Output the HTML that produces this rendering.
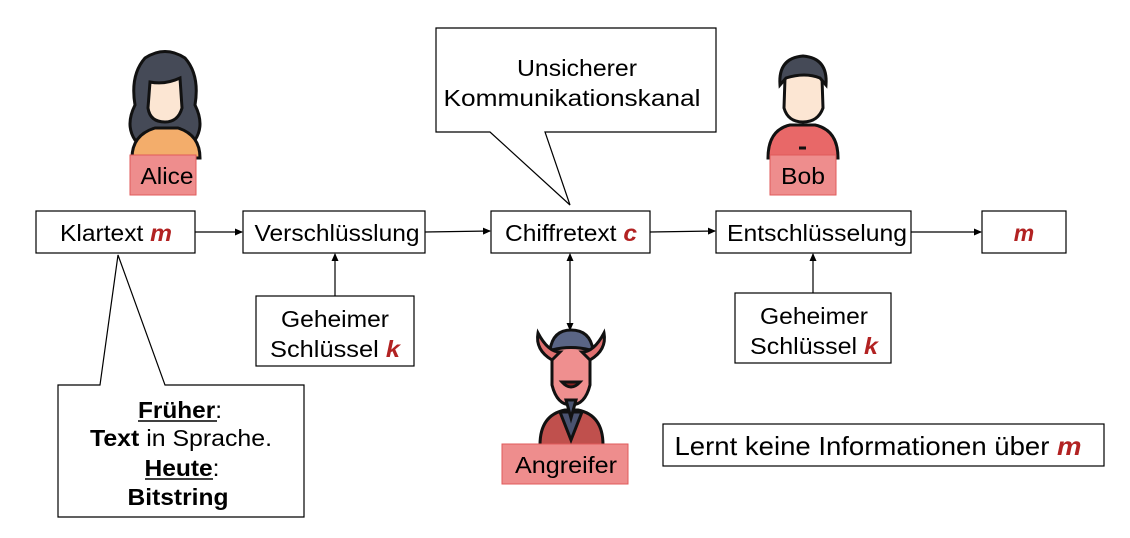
<!DOCTYPE html>
<html><head><style>body{margin:0;background:#fff}svg{display:block}text{font-family:"Liberation Sans",sans-serif;fill:#000}</style></head><body>
<svg width="1130" height="538" viewBox="0 0 1130 538">
<defs><marker id="a" markerWidth="8" markerHeight="8" refX="7" refY="4" orient="auto-start-reverse" markerUnits="userSpaceOnUse"><path d="M0,0.5 L8,4 L0,7.5z" fill="#000"/></marker></defs>
<g stroke="#000" stroke-width="1.2" fill="#fff">
<rect x="36" y="211" width="159" height="42"/>
<rect x="243" y="211" width="182" height="42"/>
<rect x="491" y="211" width="159" height="42"/>
<rect x="716" y="211" width="195" height="42"/>
<rect x="982" y="211" width="84" height="42"/>
<rect x="256" y="296" width="158" height="70"/>
<rect x="735" y="293" width="156" height="70"/>
<rect x="663" y="424" width="441" height="42"/>
<path d="M436,28 H716 V132 H545 L570,205 L490,132 H436Z"/>
<path d="M58,385 H100 L118,255 L165,385 H304 V517 H58Z"/>
</g>
<g stroke="#000" stroke-width="1.2" fill="none">
<line x1="195" y1="232" x2="242" y2="232" marker-end="url(#a)"/>
<line x1="425" y1="232" x2="490" y2="231" marker-end="url(#a)"/>
<line x1="650" y1="232" x2="715" y2="231" marker-end="url(#a)"/>
<line x1="911" y1="232" x2="981" y2="232" marker-end="url(#a)"/>
<line x1="335" y1="296" x2="335" y2="254" marker-end="url(#a)"/>
<line x1="813" y1="293" x2="813" y2="254" marker-end="url(#a)"/>
<line x1="570" y1="254" x2="570" y2="330" marker-end="url(#a)" marker-start="url(#a)"/>
</g>
<!-- Alice -->
<g stroke="#111" stroke-width="3">
<path d="M145,58 Q165,45 185,58 Q200,75 195,105 Q205,125 195,140 L135,140 Q125,125 135,105 Q130,75 145,58Z" fill="#454a57"/>
<path d="M132,158 Q132,135 155,128 L178,128 Q200,135 200,158Z" fill="#f3ad6b"/>
<path d="M150,82 Q165,85 180,78 L182,108 Q178,122 165,122 Q150,122 148,108Z" fill="#fce6d3"/>
</g>
<rect x="130" y="155" width="66" height="40" fill="#ee8d8d" stroke="#e05a5a"/>
<text x="167" y="184" font-size="23" text-anchor="middle" textLength="53" lengthAdjust="spacingAndGlyphs">Alice</text>
<!-- Bob -->
<g stroke="#111" stroke-width="3">
<path d="M768,158 Q768,130 790,125 L815,125 Q838,130 838,158Z" fill="#e86868"/>
<path d="M785,78 Q803,60 822,78 L823,108 Q818,122 803,122 Q788,122 784,108Z" fill="#fce6d3"/>
<path d="M780,85 Q778,58 803,56 Q828,58 826,85 L820,78 Q805,72 786,78Z" fill="#454a57"/>
<line x1="799" y1="148" x2="806" y2="148"/>
</g>
<rect x="770" y="155" width="66" height="40" fill="#ee8d8d" stroke="#e05a5a"/>
<text x="803" y="184" font-size="23" text-anchor="middle" textLength="44" lengthAdjust="spacingAndGlyphs">Bob</text>
<!-- Devil -->
<g stroke="#111" stroke-width="3">
<path d="M540,445 Q540,415 565,410 L578,410 Q603,415 603,445Z" fill="#c0504d"/>
<path d="M560,412 L571,440 L582,412Z" fill="#4a5370"/>
<path d="M550,350 Q553,330 571,330 Q590,330 593,350Z" fill="#5a6585"/>
<path d="M552,350 Q571,345 590,350 L590,385 Q585,405 571,405 Q557,405 552,385Z" fill="#ef8f8f"/>
<path d="M552,360 Q535,350 538,333 Q548,352 560,352Z" fill="#e07070"/>
<path d="M590,360 Q607,350 604,333 Q594,352 582,352Z" fill="#e07070"/>
<path d="M562,382 Q571,392 580,382Z" fill="#8b2020"/>
<path d="M566,400 L571,418 L576,400Z" fill="#4a5370"/>
</g>
<rect x="502" y="444" width="126" height="40" fill="#ee8d8d" stroke="#e05a5a"/>
<text x="566" y="473" font-size="23" text-anchor="middle" textLength="102" lengthAdjust="spacingAndGlyphs">Angreifer</text>
<g font-size="23" text-anchor="middle" lengthAdjust="spacingAndGlyphs">
<text x="116" y="241" textLength="112" lengthAdjust="spacingAndGlyphs">Klartext <tspan font-weight="bold" font-style="italic" style="fill:#b22222">m</tspan></text>
<text x="337" y="241" textLength="165" lengthAdjust="spacingAndGlyphs">Verschlüsslung</text>
<text x="571" y="241" textLength="132" lengthAdjust="spacingAndGlyphs">Chiffretext <tspan font-weight="bold" font-style="italic" style="fill:#b22222">c</tspan></text>
<text x="817" y="241" textLength="180" lengthAdjust="spacingAndGlyphs">Entschlüsselung</text>
<text x="1024" y="241" font-weight="bold" font-style="italic" style="fill:#b22222">m</text>
<text x="335" y="327" textLength="108" lengthAdjust="spacingAndGlyphs">Geheimer</text>
<text x="335" y="357" textLength="130" lengthAdjust="spacingAndGlyphs">Schlüssel <tspan font-weight="bold" font-style="italic" style="fill:#b22222">k</tspan></text>
<text x="814" y="324" textLength="108" lengthAdjust="spacingAndGlyphs">Geheimer</text>
<text x="814" y="354" textLength="128" lengthAdjust="spacingAndGlyphs">Schlüssel <tspan font-weight="bold" font-style="italic" style="fill:#b22222">k</tspan></text>
<text x="577" y="76" textLength="120" lengthAdjust="spacingAndGlyphs">Unsicherer</text>
<text x="572" y="106" textLength="257" lengthAdjust="spacingAndGlyphs">Kommunikationskanal</text>
<text x="878" y="455" font-size="26" textLength="407" lengthAdjust="spacingAndGlyphs">Lernt keine Informationen über <tspan font-weight="bold" font-style="italic" style="fill:#b22222">m</tspan></text>
<text x="180" y="418" textLength="84" lengthAdjust="spacingAndGlyphs"><tspan font-weight="bold">Früher</tspan>:</text>
<text x="181" y="446" textLength="182" lengthAdjust="spacingAndGlyphs"><tspan font-weight="bold">Text</tspan> in Sprache.</text>
<text x="182" y="476" textLength="75" lengthAdjust="spacingAndGlyphs"><tspan font-weight="bold">Heute</tspan>:</text>
<text x="178" y="505" font-weight="bold" textLength="101" lengthAdjust="spacingAndGlyphs">Bitstring</text>
</g>
<line x1="138" y1="421" x2="217" y2="421" stroke="#000" stroke-width="1.5"/>
<line x1="145" y1="479" x2="213" y2="479" stroke="#000" stroke-width="1.5"/>
</svg>
</body></html>
